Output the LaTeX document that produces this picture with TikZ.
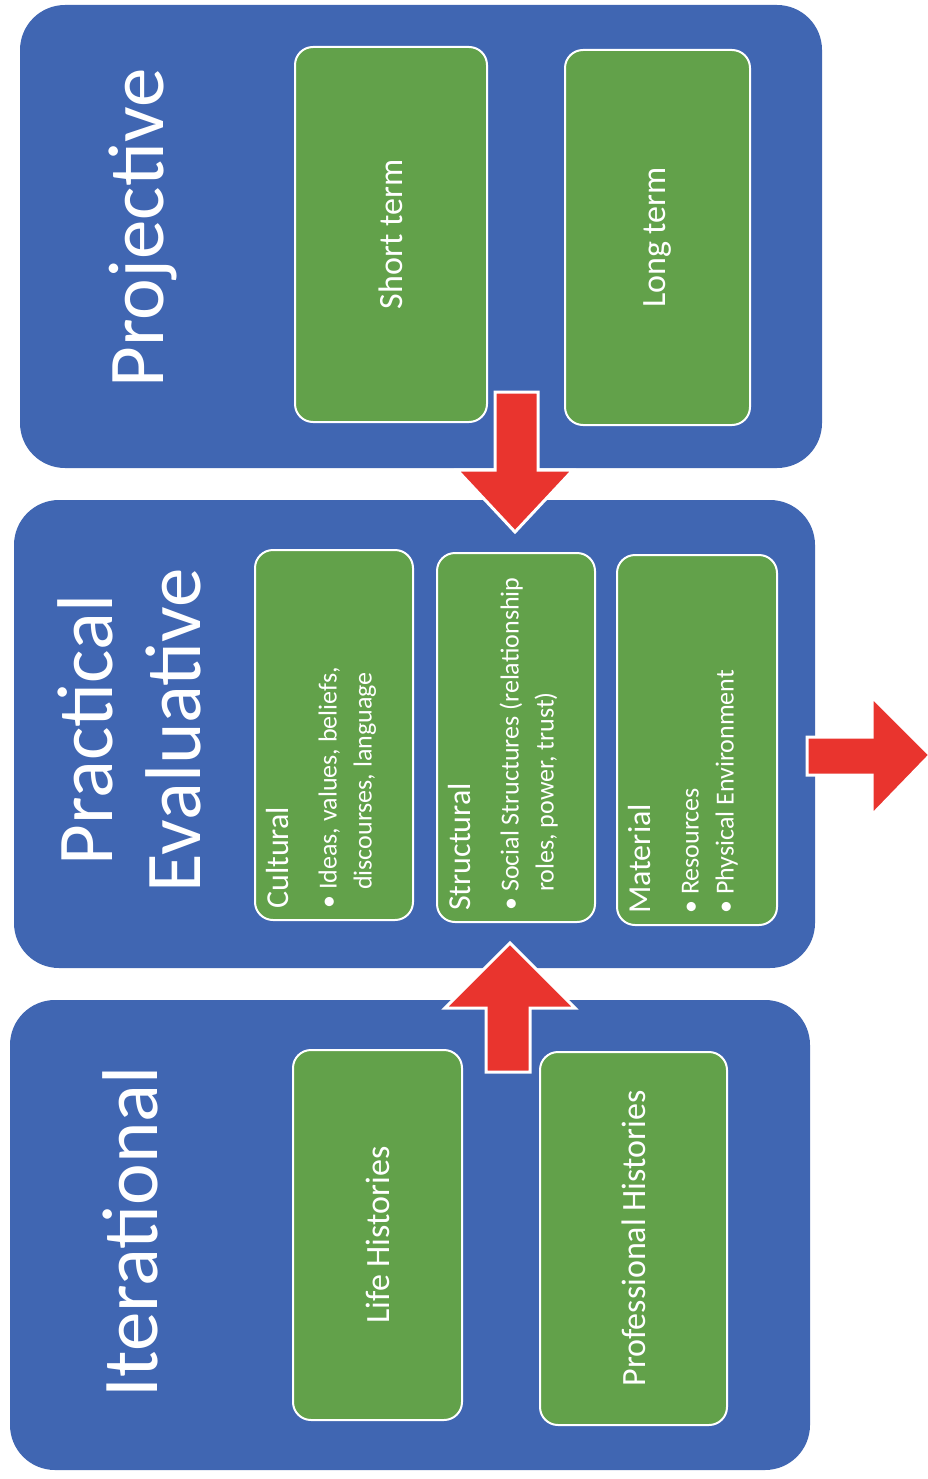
\documentclass[tikz,border=0pt]{standalone}
\usepackage{fontspec}
\setmainfont{Carlito}
\definecolor{panelblue}{RGB}{64,102,178}
\definecolor{boxgreen}{RGB}{98,161,74}
\definecolor{arrowred}{RGB}{233,52,46}
\tikzset{
  panel/.style={fill=panelblue, rounded corners=45pt, draw=none, inner sep=0pt},
  gbox/.style={fill=boxgreen, draw=white, line width=2pt, rounded corners=18pt, inner sep=0pt, text=white, font=\fontsize{34}{40}\selectfont},
  title/.style={text=white, font=\fontsize{79}{88}\selectfont, rotate=90, anchor=base, inner sep=0pt},
  listtext/.style={text=white, rotate=90, anchor=north west, inner sep=0pt, font=\fontsize{26}{35}\selectfont},
  blockarrow/.style={fill=arrowred, draw=white, line width=3pt, line join=miter}
}
\newcommand{\boxhead}[1]{\multicolumn{2}{@{}l@{}}{\fontsize{32}{35}\selectfont #1}}
\begin{document}
\begin{tikzpicture}[x=1pt,y=-1pt]
\useasboundingbox (0,0) rectangle (928,1479);
\fill[white] (0,0) rectangle (928,1479);

% panels
\node[panel, minimum width=802pt, minimum height=463pt] (proj) at (421,236.5) {};
\node[panel, minimum width=801pt, minimum height=468pt] (prac) at (414.5,734) {};
\node[panel, minimum width=800pt, minimum height=470pt] (iter) at (410,1235) {};

% titles
\node[title] (projT) at (163,228) {Projective};
\node[title] (pracT1) at (112,730) {Practical};
\node[title] (pracT2) at (200,730) {Evaluative};
\node[title] (iterT) at (157,1232) {Iterational};

% green boxes projective
\node[gbox, rotate=90, minimum width=375pt, minimum height=192pt] (short) at (391,234.5) {Short term};
\node[gbox, rotate=90, minimum width=375pt, minimum height=185pt] (long) at (657.5,237.5) {Long term};

% green boxes practical evaluative
\node[gbox, minimum width=158pt, minimum height=370pt] (cult) at (334,735) {};
\node[gbox, minimum width=158pt, minimum height=369pt] (struct) at (516,737.5) {};
\node[gbox, minimum width=160pt, minimum height=370pt] (mat) at (697,740) {};

\node[listtext] (cultT) at ([xshift=10pt,yshift=12pt]cult.south west) {%
\begin{tabular}{@{}l@{\hspace{6pt}}l@{}}
\boxhead{Cultural}\\[13pt]
\textbullet & Ideas, values, beliefs,\\
 & discourses, language
\end{tabular}};
\node[listtext] (structT) at ([xshift=10pt,yshift=12pt]struct.south west) {%
\begin{tabular}{@{}l@{\hspace{6pt}}l@{}}
\boxhead{Structural}\\[13pt]
\textbullet & Social Structures (relationship\\
 & roles, power, trust)
\end{tabular}};
\node[listtext] (matT) at ([xshift=10pt,yshift=12pt]mat.south west) {%
\begin{tabular}{@{}l@{\hspace{6pt}}l@{}}
\boxhead{Material}\\[13pt]
\textbullet & Resources\\
\textbullet & Physical Environment
\end{tabular}};

% green boxes iterational
\node[gbox, rotate=90, minimum width=370pt, minimum height=169pt] (life) at (377.5,1235) {Life Histories};
\node[gbox, rotate=90, minimum width=373pt, minimum height=187pt] (prof) at (633.5,1238.5) {Professional Histories};

% arrows
\draw[blockarrow] (495,392) -- (538,392) -- (538,470) -- (573,470) -- (515,532) -- (457,470) -- (495,470) -- cycle;
\draw[blockarrow] (486,1072) -- (530,1072) -- (530,1008) -- (575,1008) -- (510,943) -- (445,1008) -- (486,1008) -- cycle;
\draw[blockarrow] (807,737) -- (872,737) -- (872,697) -- (930,755) -- (872,815) -- (872,775) -- (807,775) -- cycle;
\end{tikzpicture}
\end{document}
